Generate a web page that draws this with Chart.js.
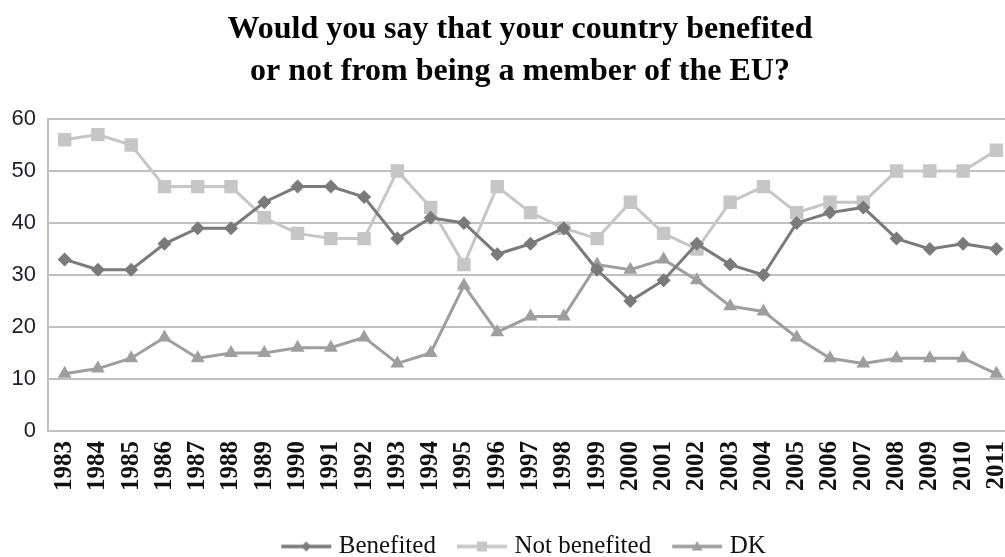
<!DOCTYPE html>
<html>
<head>
<meta charset="utf-8">
<script src="https://cdn.jsdelivr.net/npm/chart.js@4.4.1/dist/chart.umd.min.js"></script>
<style>
  html, body { margin: 0; padding: 0; background: #fff; overflow: hidden; }
  #wrap { width: 1040px; height: 557px; }
</style>
</head>
<body>
<div id="wrap"><canvas id="c" width="1040" height="557"></canvas></div>
<script>
const years = ['1983','1984','1985','1986','1987','1988','1989','1990','1991','1992','1993','1994','1995','1996','1997','1998','1999','2000','2001','2002','2003','2004','2005','2006','2007','2008','2009','2010','2011'];
const benefited    = [33,31,31,36,39,39,44,47,47,45,37,41,40,34,36,39,31,25,29,36,32,30,40,42,43,37,35,36,35];
const notBenefited = [56,57,55,47,47,47,41,38,37,37,50,43,32,47,42,39,37,44,38,35,44,47,42,44,44,50,50,50,54];
const dk           = [11,12,14,18,14,15,15,16,16,18,13,15,28,19,22,22,32,31,33,29,24,23,18,14,13,14,14,14,11];
const seriesNames = ['Benefited','Not benefited','DK'];
const yTicks = [0,10,20,30,40,50,60];

const colBen = '#7a7a7a';
const colNot = '#c6c6c6';
const colDK  = '#9e9e9e';

// legend symbol: transparent lead-in (12px) + line (52px) with a small marker
function makeIcon(color, shape) {
  const cv = document.createElement('canvas');
  cv.width = 64; cv.height = 20;
  const g = cv.getContext('2d');
  g.strokeStyle = color; g.lineWidth = 3.5;
  g.beginPath(); g.moveTo(13, 10); g.lineTo(63, 10); g.stroke();
  g.fillStyle = color;
  g.beginPath();
  const cx = 38;
  if (shape === 'rectRot') {
    g.moveTo(cx, 5); g.lineTo(cx + 5, 10); g.lineTo(cx, 15); g.lineTo(cx - 5, 10);
  } else if (shape === 'rect') {
    g.rect(cx - 5, 5, 10, 10);
  } else {
    g.moveTo(cx, 4.5); g.lineTo(cx + 5.5, 14); g.lineTo(cx - 5.5, 14);
  }
  g.closePath(); g.fill();
  return cv;
}
const icons = [makeIcon(colBen,'rectRot'), makeIcon(colNot,'rect'), makeIcon(colDK,'triangle')];

new Chart(document.getElementById('c'), {
  type: 'line',
  data: {
    labels: years,
    datasets: [
      { label: seriesNames[0], data: benefited, borderColor: colBen, backgroundColor: colBen,
        borderWidth: 3, pointStyle: 'rectRot', pointRadius: 7, pointBorderWidth: 0, tension: 0 },
      { label: seriesNames[1], data: notBenefited, borderColor: colNot, backgroundColor: colNot,
        borderWidth: 3, pointStyle: 'rect', pointRadius: 9.5, pointBorderWidth: 0, tension: 0 },
      { label: seriesNames[2], data: dk, borderColor: colDK, backgroundColor: colDK,
        borderWidth: 3, pointStyle: 'triangle', pointRadius: 8, pointBorderWidth: 0, tension: 0 }
    ]
  },
  options: {
    responsive: false,
    animation: false,
    layout: { padding: { left: 0, right: 0, top: 0, bottom: -12 } },
    scales: {
      x: {
        offset: true,
        grid: { display: false, drawTicks: false },
        border: { display: true, color: '#c0c0c0', width: 2 },
        ticks: {
          autoSkip: false, maxRotation: 90, minRotation: 90, padding: 10,
          color: '#111',
          font: { family: '"Liberation Serif", "Times New Roman", serif', size: 25, weight: 'bold' }
        },
        afterFit: (s) => { s.height = 89; }
      },
      y: {
        min: 0, max: 60,
        afterBuildTicks: (s) => { s.ticks = yTicks.map(v => ({ value: v })); },
        grid: { color: '#c0c0c0', lineWidth: 2, drawTicks: false },
        border: { display: true, color: '#c0c0c0', width: 2 },
        ticks: {
          padding: 12, color: '#1e1e28',
          font: { family: '"Liberation Sans", Arial, sans-serif', size: 22 }
        },
        afterFit: (s) => { s.width = 48; }
      },
      yRightSpace: {
        type: 'linear', position: 'right', min: 0, max: 60,
        grid: { display: false, drawTicks: false },
        border: { display: false },
        ticks: { display: false },
        afterFit: (s) => { s.width = 27; }
      }
    },
    plugins: {
      title: {
        display: true,
        text: ['Would you say that your country benefited', 'or not from being a member of the EU?'],
        color: '#000',
        font: { family: '"Liberation Serif", "Times New Roman", serif', size: 32, weight: 'bold', lineHeight: 1.3125 },
        padding: { top: 9, bottom: 26 }
      },
      legend: {
        position: 'bottom',
        labels: {
          usePointStyle: true, pointStyleWidth: 52, padding: 14,
          color: '#111',
          font: { family: '"Liberation Serif", "Times New Roman", serif', size: 25 },
          generateLabels(chart) {
            const items = Chart.defaults.plugins.legend.labels.generateLabels(chart);
            items.forEach((it, i) => { it.pointStyle = icons[i]; it.lineWidth = 0; });
            return items;
          }
        }
      },
      tooltip: { enabled: false }
    }
  }
});
</script>
</body>
</html>
